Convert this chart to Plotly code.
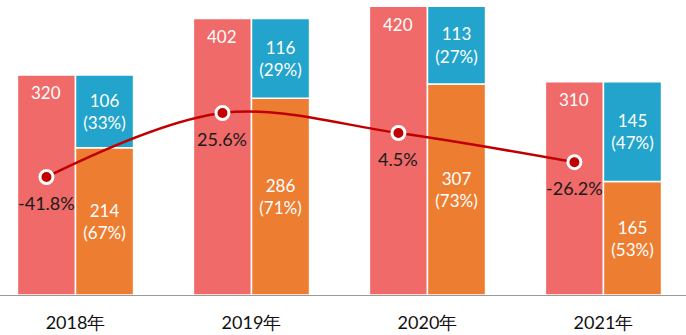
import plotly.graph_objects as go

categories = ["2018年", "2019年", "2020年", "2021年"]
totals = [320, 402, 420, 310]
orange_vals = [214, 286, 307, 165]
orange_pct = ["67%", "71%", "73%", "53%"]
blue_vals = [106, 116, 113, 145]
blue_pct = ["33%", "29%", "27%", "47%"]
growth = [-41.8, 25.6, 4.5, -26.2]

RED = "#EF6A68"
ORANGE = "#ED7D31"
BLUE = "#22A4CC"
LINE = "#C00000"
FONT = "Lato"
W = 0.33

idx = list(range(len(categories)))
red_x = [i - W / 2 for i in idx]

fig = go.Figure()
fig.add_trace(go.Bar(
    x=idx, y=totals, width=W, offset=-W, marker=dict(color=RED, line=dict(color="white", width=1.5)),
    hoverinfo="skip", showlegend=False))
fig.add_trace(go.Bar(
    x=idx, y=orange_vals, width=W, offset=0, marker=dict(color=ORANGE, line=dict(color="white", width=1.5)),
    text=[f"{v}<br>({p})" for v, p in zip(orange_vals, orange_pct)],
    textposition="inside", insidetextanchor="middle", constraintext="none",
    textfont=dict(color="white", size=17, family=FONT), showlegend=False))
fig.add_trace(go.Bar(
    x=idx, y=blue_vals, base=orange_vals, width=W, offset=0,
    marker=dict(color=BLUE, line=dict(color="white", width=1.5)),
    text=[f"{v}<br>({p})" for v, p in zip(blue_vals, blue_pct)],
    textposition="inside", insidetextanchor="middle", constraintext="none",
    textfont=dict(color="white", size=17, family=FONT), showlegend=False))
fig.add_trace(go.Scatter(
    x=red_x, y=growth, yaxis="y2", mode="lines+markers",
    line=dict(color=LINE, width=2.5, shape="spline", smoothing=1),
    marker=dict(size=13, color=LINE, line=dict(color="white", width=3)),
    showlegend=False))

for x, t in zip(red_x, totals):
    fig.add_annotation(x=x, y=t, yref="y", text=str(t), showarrow=False, yshift=-18,
                       font=dict(color="white", size=17, family=FONT))
for x, g in zip(red_x, growth):
    fig.add_annotation(x=x, y=g, yref="y2", text=f"{g}%", showarrow=False, yshift=-26,
                       font=dict(color="#1a1a1a", size=18, family=FONT))

fig.update_layout(
    width=686, height=335, margin=dict(l=0, r=0, t=0, b=40),
    paper_bgcolor="white", plot_bgcolor="white", barmode="overlay",
    xaxis=dict(range=[-0.429, 3.469], tickvals=idx, ticktext=categories, showgrid=False,
               zeroline=False, showline=True, linecolor="#999999", linewidth=1,
               ticks="outside", ticklen=11, tickcolor="rgba(0,0,0,0)",
               tickfont=dict(size=18, family=FONT, color="#111111")),
    yaxis=dict(range=[0, 429], visible=False, showgrid=False, zeroline=False),
    yaxis2=dict(range=[-166.1, 144.6], overlaying="y", visible=False, showgrid=False, zeroline=False),
)
fig.write_html("out.html")
